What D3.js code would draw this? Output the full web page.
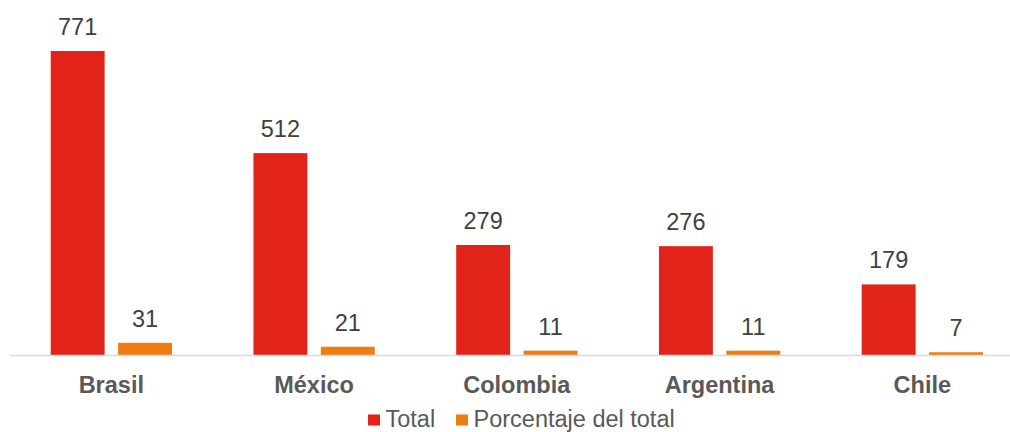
<!DOCTYPE html>
<html>
<head>
<meta charset="utf-8">
<script src="https://cdn.jsdelivr.net/npm/d3@7"></script>
<style>
  body { margin: 0; background: #fff; }
  svg { display: block; font-family: "Liberation Sans", Arial, sans-serif; }
</style>
</head>
<body>
<svg width="1010" height="432"></svg>
<script>
const countries = ["Brasil", "México", "Colombia", "Argentina", "Chile"];
const totals = [771, 512, 279, 276, 179];
const shares = [31, 21, 11, 11, 7];
const seriesNames = ["Total", "Porcentaje del total"];
const colors = ["#E2231A", "#EE7D14"];

const svg = d3.select("svg");
const baseY = 355;

const x = d3.scaleBand()
    .domain(countries)
    .range([10, 1023.75]);

// two bars inside each category band
const xs = d3.scaleBand()
    .domain([0, 1])
    .range([40.7, 162])
    .paddingInner(0.2);

const y = d3.scaleLinear()
    .domain([0, 771])
    .range([baseY, 51]);

const rows = countries.map((c, i) => ({ country: c, vals: [totals[i], shares[i]] }));

const groups = svg.selectAll("g.cat")
    .data(rows)
    .join("g")
    .attr("class", "cat")
    .attr("transform", d => `translate(${x(d.country)},0)`);

groups.selectAll("rect")
    .data(d => d.vals.map((v, k) => ({ v, k })))
    .join("rect")
    .attr("x", d => xs(d.k))
    .attr("width", xs.bandwidth())
    .attr("y", d => y(d.v))
    .attr("height", d => baseY - y(d.v))
    .attr("fill", d => colors[d.k]);

groups.selectAll("text.val")
    .data(d => d.vals.map((v, k) => ({ v, k })))
    .join("text")
    .attr("class", "val")
    .attr("x", d => xs(d.k) + xs.bandwidth() / 2)
    .attr("y", d => y(d.v) - 16)
    .attr("text-anchor", "middle")
    .attr("font-size", "23.5px")
    .attr("fill", "#404040")
    .text(d => d.v);

// baseline
svg.append("line")
    .attr("x1", 10).attr("x2", 1010)
    .attr("y1", baseY + 0.5).attr("y2", baseY + 0.5)
    .attr("stroke", "#d9d9d9")
    .attr("stroke-width", 1.5);

// category labels
svg.selectAll("text.catlabel")
    .data(countries)
    .join("text")
    .attr("class", "catlabel")
    .attr("x", d => x(d) + 101.3)
    .attr("y", 393)
    .attr("text-anchor", "middle")
    .attr("font-size", "23.5px")
    .attr("font-weight", "bold")
    .attr("fill", "#595959")
    .text(d => d);

// legend (kept just inside the bottom edge)
const legend = svg.append("g");
const legX = [368, 456];
seriesNames.forEach((name, i) => {
    legend.append("rect")
        .attr("x", legX[i]).attr("y", 414.5)
        .attr("width", 12).attr("height", 11)
        .attr("fill", colors[i]);
    legend.append("text")
        .attr("x", legX[i] + 17.5)
        .attr("y", 426.5)
        .attr("font-size", "23.5px")
        .attr("fill", "#595959")
        .text(name);
});
</script>
</body>
</html>
